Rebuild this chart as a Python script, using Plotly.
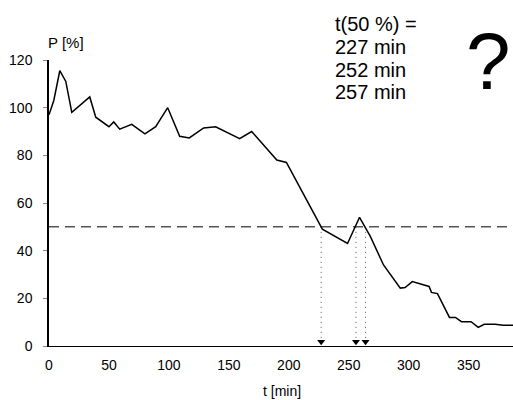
import plotly.graph_objects as go

# ---- data ----
t_min = [0, 4, 9, 14, 19, 34, 39, 50, 54, 59, 69, 80, 89, 99, 109, 117, 129, 139,
         159, 169, 190, 198, 228, 249, 259, 268, 279, 293, 297, 303, 317, 319, 324,
         334, 339, 344, 352, 358, 363, 372, 379, 387]
p_pct = [97, 103, 115.5, 111, 98, 104.5, 96, 92, 94, 91, 93, 89, 92, 100, 88, 87.3,
         91.5, 92, 87, 90, 78, 77, 49, 43, 54, 46, 34, 24.3, 24.5, 27, 25, 22.5, 22,
         12, 12, 10.2, 10.2, 7.8, 9.1, 9.1, 8.7, 8.7]
half_level = 50
cross_t = [227, 256, 264]
x_ticks = [0, 50, 100, 150, 200, 250, 300, 350]
y_ticks = [0, 20, 40, 60, 80, 100, 120]
info_lines = ["t(50 %) =", "227 min", "252 min", "257 min"]
x_title = "t [min]"
y_title = "P [%]"
mystery = "?"

W, H = 513, 400
ML, MR, MT, MB = 49, 0, 60, 54
PW, PH = W - ML - MR, H - MT - MB
FONT = "Liberation Sans, Arial, Helvetica, sans-serif"


def px_x(px):
    return (px - ML) / PW


def px_y(py):
    return (H - MB - py) / PH


fig = go.Figure()

# dashed 50 % line
fig.add_trace(go.Scatter(x=[0, 387], y=[half_level, half_level], mode="lines",
                         line=dict(color="black", width=1, dash="10px,6px"),
                         hoverinfo="skip", showlegend=False))

# dotted drop lines and arrows
for tc in cross_t:
    fig.add_trace(go.Scatter(x=[tc, tc], y=[half_level, 2], mode="lines",
                             line=dict(color="#555", width=1, dash="1px,4px"),
                             hoverinfo="skip", showlegend=False))
fig.add_trace(go.Scatter(x=cross_t, y=[1.8] * len(cross_t), mode="markers",
                         marker=dict(symbol="triangle-down", size=7, color="black"),
                         hoverinfo="skip", showlegend=False))

# main curve
fig.add_trace(go.Scatter(x=t_min, y=p_pct, mode="lines",
                         line=dict(color="black", width=1.5),
                         showlegend=False))

annotations = []
line_y = [24, 47, 70, 92]
for txt, ly in zip(info_lines, line_y):
    annotations.append(dict(text=txt, xref="paper", yref="paper",
                            x=px_x(333), y=px_y(ly), xanchor="left", yanchor="middle",
                            showarrow=False, font=dict(family=FONT, size=20, color="black")))
annotations.append(dict(text=mystery, xref="paper", yref="paper",
                        x=px_x(488), y=px_y(62), xanchor="center", yanchor="middle",
                        showarrow=False, font=dict(family=FONT, size=80, color="black")))
annotations.append(dict(text=y_title, xref="paper", yref="paper",
                        x=px_x(46), y=px_y(42), xanchor="left", yanchor="middle",
                        showarrow=False, font=dict(family=FONT, size=15, color="black")))
annotations.append(dict(text=x_title, xref="paper", yref="paper",
                        x=px_x(282), y=px_y(391), xanchor="center", yanchor="middle",
                        showarrow=False, font=dict(family=FONT, size=14, color="black")))

fig.update_layout(
    width=W, height=H,
    margin=dict(l=ML, r=MR, t=MT, b=MB, pad=0),
    paper_bgcolor="white", plot_bgcolor="white",
    font=dict(family=FONT, size=14, color="black"),
    annotations=annotations,
    xaxis=dict(range=[0, 387], tickvals=x_ticks, ticktext=[str(v) for v in x_ticks],
               showgrid=False, zeroline=False, showline=True, linecolor="black",
               linewidth=1, ticks="", tickfont=dict(size=14), ticklabelstandoff=6),
    yaxis=dict(range=[0, 120], tickvals=y_ticks, ticktext=[str(v) for v in y_ticks],
               showgrid=False, zeroline=False, showline=True, linecolor="black",
               linewidth=1.5, ticks="outside", ticklen=4, tickcolor="#888",
               tickfont=dict(size=14), ticklabelstandoff=8),
)

fig.write_html("out.html", config={"displayModeBar": False},
               post_script="document.body.style.margin='0';document.body.style.overflow='hidden';")
